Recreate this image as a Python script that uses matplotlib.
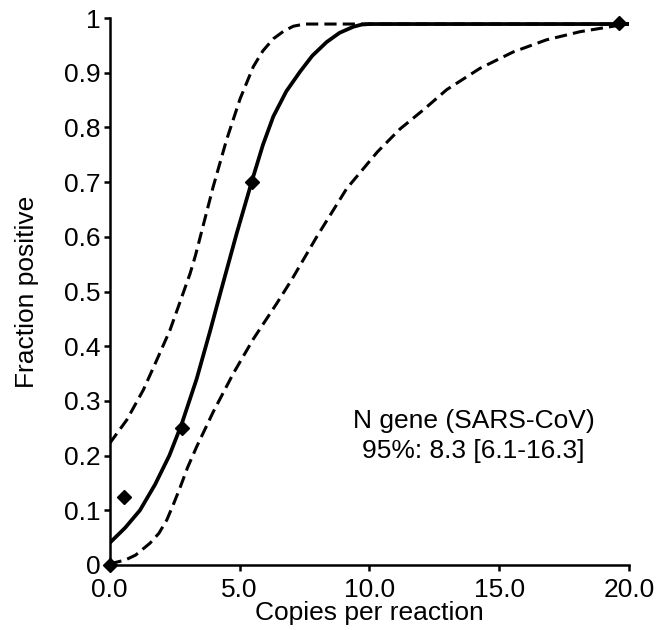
import matplotlib
matplotlib.use('Agg')
import matplotlib.pyplot as plt

plt.rcParams['font.family'] = ['Liberation Sans', 'DejaVu Sans']

# Observed hit rates
obs_x = [0.0, 0.56, 2.77, 5.49, 19.6]
obs_y = [0.0, 0.125, 0.25, 0.70, 0.99]

# Probit fit (solid)
fit_x = [0, 0.6, 1.17, 1.75, 2.3, 2.77, 3.35, 3.87, 4.25, 4.89, 5.49, 5.9, 6.3, 6.8, 7.33,
         7.8, 8.35, 8.85, 9.38, 9.7, 10.0, 20.0]
fit_y = [0.040, 0.068, 0.100, 0.147, 0.200, 0.257, 0.340, 0.428, 0.495, 0.606, 0.704, 0.768, 0.820, 0.866, 0.902,
         0.931, 0.956, 0.973, 0.984, 0.988, 0.989, 0.989]

# Upper 95% CI (dashed)
upper_x = [0, 0.66, 1.3, 1.82, 2.33, 2.78, 3.1, 3.3, 3.48, 3.99, 4.5, 5.02, 5.53, 5.9, 6.3, 6.7, 7.07, 7.5, 20.0]
upper_y = [0.222, 0.265, 0.320, 0.375, 0.430, 0.490, 0.533, 0.565, 0.598, 0.692, 0.777, 0.852, 0.911, 0.940, 0.962, 0.976, 0.985, 0.989, 0.989]

# Lower 95% CI (dashed)
lower_x = [0, 0.6, 1.0, 1.56, 1.9, 2.2, 2.45, 2.71, 3.0, 3.35, 3.99, 4.76, 5.53, 6.43, 7.0, 7.97, 9.12, 10.3, 11.17,
           12.07, 12.97, 14.25, 15.53, 16.8, 18.1, 19.38, 20.0]
lower_y = [0.002, 0.009, 0.018, 0.040, 0.058, 0.082, 0.110, 0.141, 0.178, 0.216, 0.280, 0.350, 0.413, 0.478, 0.521, 0.600, 0.688, 0.755, 0.797,
           0.832, 0.869, 0.908, 0.938, 0.960, 0.975, 0.985, 0.990]

x_ticks = [0, 5, 10, 15, 20]
x_labels = ['0.0', '5.0', '10.0', '15.0', '20.0']
y_ticks = [0, 0.1, 0.2, 0.3, 0.4, 0.5, 0.6, 0.7, 0.8, 0.9, 1.0]
y_labels = ['0', '0.1', '0.2', '0.3', '0.4', '0.5', '0.6', '0.7', '0.8', '0.9', '1']

fig = plt.figure(figsize=(6.61, 6.3), dpi=100)
ax = fig.add_axes([0.1657, 0.1032, 0.7866, 0.8682])

ax.plot(upper_x, upper_y, color='black', lw=2.2, dashes=(4, 2))
ax.plot(lower_x, lower_y, color='black', lw=2.2, dashes=(4, 2))
ax.plot(fit_x, fit_y, color='black', lw=2.7, solid_capstyle='butt')
ax.plot(obs_x, obs_y, 'D', color='black', markersize=7.5, clip_on=False, zorder=5)

ax.set_xlim(0, 20)
ax.set_ylim(0, 1)
ax.set_xticks(x_ticks)
ax.set_xticklabels(x_labels)
ax.set_yticks(y_ticks)
ax.set_yticklabels(y_labels)

for s in ['top', 'right']:
    ax.spines[s].set_visible(False)
for s in ['left', 'bottom']:
    ax.spines[s].set_linewidth(1.8)
ax.tick_params(width=1.8, length=4.5, labelsize=19)
ax.tick_params(axis='x', pad=5)
ax.tick_params(axis='y', pad=2)

ax.set_xlabel('Copies per reaction', fontsize=19, labelpad=-1)
ax.set_ylabel('Fraction positive', fontsize=19, labelpad=18)

ax.text(14.0, 0.236, 'N gene (SARS-CoV)\n95%: 8.3 [6.1-16.3]', fontsize=19,
        ha='center', va='center', linespacing=1.3)

fig.savefig('out.png', dpi=100)
